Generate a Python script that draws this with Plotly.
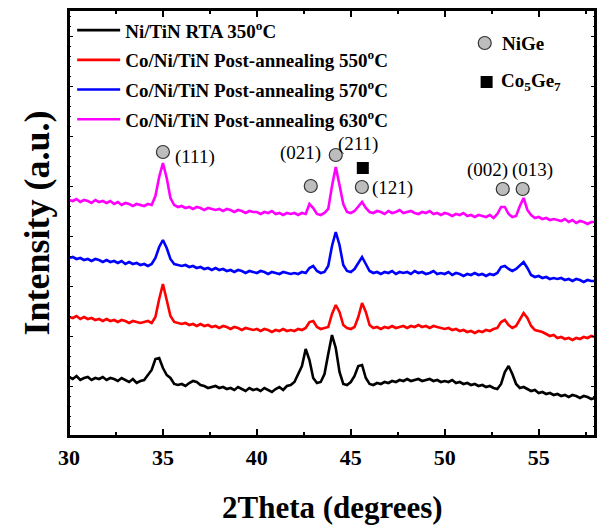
import numpy as np
import plotly.graph_objects as go

# 2-theta sampling grid (degrees)
two_theta = np.round(np.arange(30.0, 58.0001, 0.2), 1)

# Intensities (arbitrary units, stacked)
ni_tin_rta_350 = [
    59, 57, 60, 56, 58, 59, 56, 58, 57, 59,
    56, 58, 57, 55, 58, 56, 54, 57, 53, 55,
    56, 61, 66, 77, 78, 68, 61, 58, 52, 51,
    52, 50, 53, 55, 54, 51, 50, 48, 49, 50,
    48, 49, 47, 48, 46, 49, 47, 45, 48, 46,
    47, 45, 48, 46, 44, 47, 49, 46, 50, 51,
    54, 62, 70, 87, 76, 58, 53, 54, 62, 82,
    101, 88, 64, 52, 51, 54, 60, 70, 71, 58,
    52, 51, 53, 52, 54, 53, 55, 54, 56, 55,
    57, 55, 56, 57, 55, 56, 57, 55, 56, 54,
    55, 54, 56, 53, 54, 52, 53, 51, 52, 50,
    51, 49, 50, 48, 47, 52, 64, 70, 62, 52,
    48, 49, 47, 45, 46, 43, 44, 42, 43, 41,
    42, 40, 41, 39, 41, 40, 38, 40, 39, 37,
    38,
]
co_ni_tin_550 = [
    119, 118, 120, 117, 119, 117, 118, 116, 117, 115,
    117, 115, 116, 114, 116, 115, 113, 115, 114, 113,
    114, 115, 113, 119, 137, 152, 136, 120, 114, 113,
    112, 113, 111, 112, 110, 112, 110, 111, 109, 110,
    108, 110, 109, 107, 109, 108, 106, 108, 107, 106,
    107, 105, 107, 106, 104, 106, 105, 107, 105, 106,
    105, 107, 106, 108, 114, 115, 109, 107, 108, 109,
    122, 131, 124, 111, 108, 107, 109, 119, 133, 124,
    111, 108, 109, 107, 109, 108, 110, 108, 109, 110,
    108, 110, 109, 111, 109, 110, 108, 110, 109, 108,
    107, 108, 106, 107, 105, 106, 104, 105, 103, 105,
    104, 106, 105, 107, 108, 114, 116, 111, 108, 110,
    117, 123, 118, 110, 106, 105, 104, 102, 100, 101,
    98, 99, 97, 98, 96, 98, 97, 99, 98, 100,
    99,
]
co_ni_tin_570 = [
    178, 179, 177, 178, 176, 177, 175, 177, 176, 174,
    176, 174, 175, 173, 175, 172, 174, 172, 173, 171,
    172, 170, 172, 178, 189, 196, 188, 177, 172, 171,
    170, 171, 169, 170, 168, 169, 167, 168, 166, 168,
    166, 167, 165, 166, 164, 166, 165, 163, 165, 164,
    163, 165, 164, 162, 164, 163, 162, 164, 163, 162,
    163, 162, 164, 163, 168, 170, 165, 163, 164, 170,
    190, 204, 191, 171, 165, 164, 167, 173, 179, 172,
    165, 163, 164, 162, 164, 163, 165, 162, 164, 163,
    164, 162, 165, 163, 164, 162, 163, 165, 162, 163,
    162, 164, 161, 163, 162, 160, 162, 161, 163, 161,
    162, 160, 162, 161, 163, 169, 170, 167, 165, 167,
    171, 174, 168, 161, 159, 160, 158, 159, 157, 158,
    157, 158, 156, 157, 155, 157, 156, 154, 156, 155,
    155,
]
co_ni_tin_630 = [
    236, 235, 237, 234, 236, 235, 233, 236, 234, 235,
    233, 235, 232, 234, 231, 233, 232, 230, 232, 231,
    230, 232, 231, 240, 259, 273, 258, 238, 231, 229,
    230, 228, 229, 227, 229, 228, 226, 228, 227, 226,
    227, 225, 227, 226, 224, 226, 225, 223, 225, 224,
    224, 222, 224, 223, 225, 222, 223, 221, 223, 222,
    223, 221, 223, 222, 232, 228, 222, 221, 223, 227,
    250, 269, 251, 232, 224, 223, 225, 229, 234, 228,
    224, 223, 225, 224, 222, 225, 223, 224, 226, 223,
    224, 225, 223, 222, 224, 223, 225, 222, 223, 221,
    223, 222, 220, 222, 221, 223, 220, 221, 219, 221,
    220, 219, 221, 218, 222, 229, 229, 222, 219, 220,
    230, 238, 226, 221, 218, 219, 217, 218, 216, 217,
    216, 215, 217, 214, 216, 213, 215, 214, 212, 214,
    214,
]

series_names = [
    "Ni/TiN RTA 350<sup>o</sup>C",
    "Co/Ni/TiN Post-annealing 550<sup>o</sup>C",
    "Co/Ni/TiN Post-annealing 570<sup>o</sup>C",
    "Co/Ni/TiN Post-annealing 630<sup>o</sup>C",
]
series_values = [ni_tin_rta_350, co_ni_tin_550, co_ni_tin_570, co_ni_tin_630]
series_colors = ["#000000", "#ff0000", "#0000ff", "#ff00ff"]

# NiGe peak indexing (2theta of the peak, label)
nige_peaks = [35.0, 42.87, 44.2, 45.59, 53.09, 54.15]
nige_peak_marker_y = [284, 250, 281, 249, 247, 247]
nige_labels = ["(111)", "(021)", "(211)", "(121)", "(002)", "(013)"]
nige_label_x = [36.7, 42.3, 45.37, 47.23, 52.26, 54.65]
nige_label_y = [279, 283, 292, 248, 266, 266]
co5ge7_peaks = [45.64]
co5ge7_marker_y = [268]

x_ticks = [30, 35, 40, 45, 50, 55]

FONT = "Liberation Serif"

fig = go.Figure()
for name, vals, col in zip(series_names, series_values, series_colors):
    fig.add_trace(go.Scatter(
        x=two_theta, y=vals, mode="lines", name=name,
        line=dict(color=col, width=2.6), legendgroup=name,
    ))

circle_style = dict(symbol="circle", size=13, color="#bdbdbd",
                    line=dict(color="#333333", width=1.2))
square_style = dict(symbol="square", size=12, color="#000000")

fig.add_trace(go.Scatter(x=nige_peaks, y=nige_peak_marker_y, mode="markers",
                         marker=circle_style, showlegend=False, hoverinfo="skip"))
fig.add_trace(go.Scatter(x=co5ge7_peaks, y=co5ge7_marker_y, mode="markers",
                         marker=square_style, showlegend=False, hoverinfo="skip"))
# phase key (top right)
fig.add_trace(go.Scatter(x=[52.13], y=[393], mode="markers",
                         marker=circle_style, showlegend=False, hoverinfo="skip"))
fig.add_trace(go.Scatter(x=[52.23], y=[354], mode="markers",
                         marker=square_style, showlegend=False, hoverinfo="skip"))

for lx, ly, lt in zip(nige_label_x, nige_label_y, nige_labels):
    fig.add_annotation(x=lx, y=ly, text=lt, showarrow=False,
                       font=dict(family=FONT, size=19, color="#000"))

fig.add_annotation(x=52.93, y=393, text="NiGe", showarrow=False, xanchor="left",
                   font=dict(family=FONT, size=19, color="#000", weight="bold"))
fig.add_annotation(x=52.88, y=354, text="Co<sub>5</sub>Ge<sub>7</sub>", showarrow=False,
                   xanchor="left",
                   font=dict(family=FONT, size=19, color="#000", weight="bold"))

# x-axis title (placed as paper annotation for exact position)
fig.add_annotation(xref="paper", yref="paper", x=0.5, y=-0.168, yanchor="middle",
                   text="2Theta (degrees)", showarrow=False,
                   font=dict(family=FONT, size=31, color="#000", weight="bold"))

# plot frame
fig.add_shape(type="rect", xref="paper", yref="paper", x0=0, y0=0, x1=1, y1=1,
              line=dict(color="#000", width=2), layer="above")

fig.update_layout(
    width=597, height=525,
    margin=dict(l=69, r=2, t=10, b=89, autoexpand=False),
    paper_bgcolor="white", plot_bgcolor="white",
    font=dict(family=FONT, color="#000"),
    showlegend=True,
    legend=dict(
        x=0.006, y=0.997, xanchor="left", yanchor="top",
        bgcolor="rgba(0,0,0,0)", borderwidth=0,
        font=dict(family=FONT, size=19, color="#000", weight="bold"),
        itemwidth=43, tracegroupgap=2,
    ),
    xaxis=dict(
        range=[30, 58], tickvals=x_ticks, ticktext=[str(v) for v in x_ticks],
        showgrid=False, zeroline=False, automargin=False,
        showline=True, linecolor="#000", linewidth=2, mirror="ticks",
        ticks="inside", ticklen=7, tickwidth=2, tickcolor="#000",
        minor=dict(dtick=2.5, tick0=30, ticks="inside", ticklen=4, tickwidth=2, tickcolor="#000"),
        tickfont=dict(family=FONT, size=22, color="#000", weight="bold"),
        ticklabelstandoff=1,
    ),
    yaxis=dict(
        range=[0, 426], showticklabels=False, automargin=False,
        showgrid=False, zeroline=False,
        showline=True, linecolor="#000", linewidth=2, mirror="ticks",
        ticks="inside", dtick=50, tick0=0, ticklen=4, tickwidth=1, tickcolor="#000",
        minor=dict(dtick=10, ticks="inside", ticklen=2, tickwidth=1, tickcolor="#000"),
        title=dict(text="Intensity (a.u.)", standoff=6,
                   font=dict(family=FONT, size=36, color="#000", weight="bold")),
    ),
)

fig.write_html("out.html", config={"displayModeBar": False},
               post_script="document.body.style.margin='0';")
